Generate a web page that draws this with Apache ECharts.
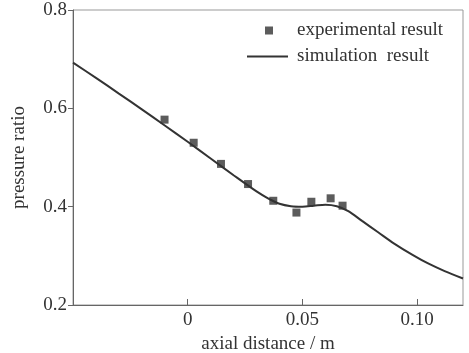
<!DOCTYPE html>
<html>
<head>
<meta charset="utf-8">
<script src="https://cdn.jsdelivr.net/npm/echarts@6/dist/echarts.min.js"></script>
<style>
  html, body { margin: 0; padding: 0; background: #fff; }
  #chart { width: 469px; height: 353px; }
</style>
</head>
<body>
<div id="chart"></div>
<script>
// experimental points (axial distance / m, pressure ratio)
const expX = [-0.0101, 0.0026, 0.0145, 0.0263, 0.0373, 0.0474, 0.0539, 0.0623, 0.0675]
const expY = [0.577, 0.530, 0.487, 0.446, 0.412, 0.388, 0.410, 0.417, 0.402]

// simulation curve
const simX = [-0.05, -0.04, -0.03, -0.02, -0.01, 0, 0.01, 0.02, 0.03, 0.035, 0.04, 0.045, 0.05,
  0.055, 0.06, 0.065, 0.07, 0.076, 0.083, 0.09, 0.098, 0.105, 0.112, 0.12]
const simY = [0.693, 0.662, 0.630, 0.598, 0.565, 0.532, 0.498, 0.464, 0.431, 0.417, 0.406, 0.401, 0.400,
  0.402, 0.404, 0.401, 0.391, 0.371, 0.348, 0.325, 0.302, 0.284, 0.269, 0.254]

const xTicks = [0, 0.05, 0.10]
const xTickLabels = ['0', '0.05', '0.10']

const font = 'Liberation Serif'
const ink = '#333'
const axisColor = '#666'

const chart = echarts.init(document.getElementById('chart'))

const option = {
  animation: false,
  textStyle: { fontFamily: font },
  grid: {
    left: 73, right: 6, top: 10, bottom: 48,
    outerBoundsMode: 'none',
    show: true, borderColor: '#999', borderWidth: 1
  },
  legend: [
    {
      data: ['experimental result'],
      left: 265, top: 21,
      padding: 0,
      itemWidth: 8, itemHeight: 8,
      icon: 'rect',
      textStyle: { fontFamily: font, fontSize: 19, color: ink, padding: [0, 0, 0, 19] }
    },
    {
      data: [{ name: 'simulation  result', icon: 'path://M0,0 L41,0 L41,2 L0,2 Z' }],
      left: 247, top: 47,
      padding: 0,
      itemWidth: 41, itemHeight: 2,
      textStyle: { fontFamily: font, fontSize: 19, color: ink, padding: [0, 0, 0, 4] }
    }
  ],
  xAxis: {
    type: 'value',
    min: -0.05, max: 0.12,
    interval: 0.05,
    name: 'axial distance / m',
    nameLocation: 'middle',
    nameGap: 29,
    nameTextStyle: { fontFamily: font, fontSize: 19, color: ink },
    axisLine: { onZero: false, lineStyle: { color: axisColor } },
    axisTick: {
      inside: true, length: 6, lineStyle: { color: axisColor },
      customValues: xTicks
    },
    axisLabel: {
      fontFamily: font, fontSize: 19, color: ink, margin: 6,
      customValues: xTicks,
      formatter: v => xTickLabels[xTicks.findIndex(t => Math.abs(t - v) < 1e-9)]
    },
    splitLine: { show: false }
  },
  yAxis: {
    type: 'value',
    min: 0.2, max: 0.8,
    interval: 0.2,
    name: 'pressure ratio',
    nameLocation: 'middle',
    nameGap: 44,
    nameTextStyle: { fontFamily: font, fontSize: 19, color: ink },
    axisLine: { show: true, onZero: false, lineStyle: { color: axisColor } },
    axisTick: { show: true, inside: false, length: 5, lineStyle: { color: axisColor } },
    axisLabel: {
      fontFamily: font, fontSize: 19, color: ink, margin: 6,
      formatter: v => v.toFixed(1)
    },
    splitLine: { show: false }
  },
  series: [
    {
      name: 'experimental result',
      type: 'scatter',
      symbol: 'rect',
      symbolSize: 8,
      itemStyle: { color: ink },
      data: expX.map((x, i) => [x, expY[i]])
    },
    {
      name: 'simulation  result',
      type: 'line',
      smooth: 0.3,
      symbol: 'none',
      lineStyle: { color: ink, width: 2 },
      itemStyle: { color: ink },
      data: simX.map((x, i) => [x, simY[i]])
    }
  ]
}

chart.setOption(option)
</script>
</body>
</html>
